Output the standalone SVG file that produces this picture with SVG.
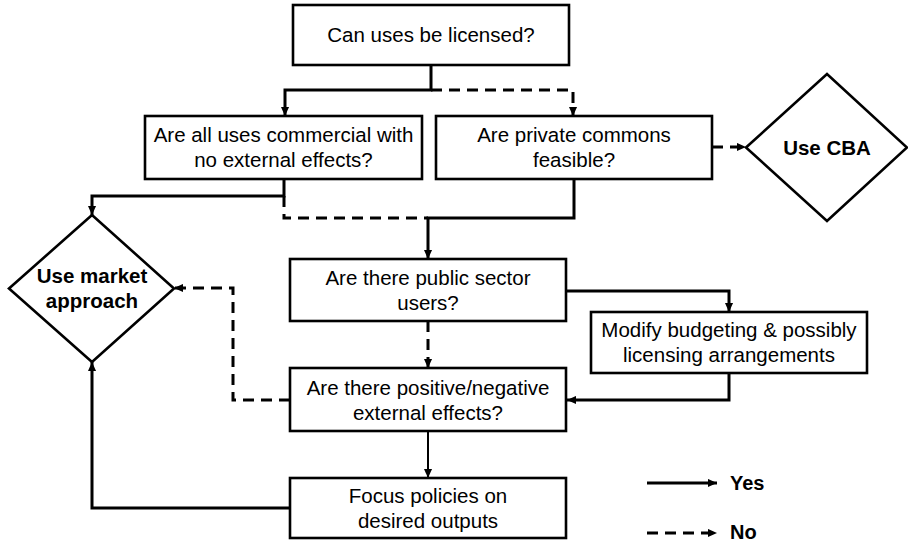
<svg xmlns="http://www.w3.org/2000/svg" width="908" height="544" viewBox="0 0 908 544">
<style>
.box{fill:#fff;stroke:#000;stroke-width:2.6}
.t{font-family:"Liberation Sans",Arial,sans-serif;font-size:20.5px;fill:#000;text-anchor:middle}
.b{font-family:"Liberation Sans",Arial,sans-serif;font-size:20.5px;font-weight:bold;fill:#000;text-anchor:middle}
.lg{font-family:"Liberation Sans",Arial,sans-serif;font-size:20px;font-weight:bold;fill:#000}
.c{fill:none;stroke:#000;stroke-width:3;marker-end:url(#ah)}
.cn{fill:none;stroke:#000;stroke-width:3}
.d{stroke-dasharray:11,7}
.thin{stroke-width:2}
</style>
<defs>
<marker id="ah" viewBox="0 0 10 10" refX="10" refY="5" markerWidth="9" markerHeight="9" markerUnits="userSpaceOnUse" orient="auto">
<path d="M0,0.5 L10,5 L0,9.5 z" fill="#000" stroke="none"/>
</marker>
</defs>
<g id="connectors">
<path class="c" d="M431,65 V90 H285 V116"/>
<path class="c d" d="M431,90 H573 V116"/>
<path class="c" d="M284,179 V196 H92 V215"/>
<path class="cn d" d="M284,196 V218 H428"/>
<path class="c" d="M574,179 V218 H428 V259"/>
<path class="c d" d="M712,147 H746"/>
<path class="c" d="M566,291 H729 V312"/>
<path class="c" d="M729,373 V400 H567"/>
<path class="c d" d="M428,321 V368"/>
<path class="c d" d="M290,400 H233 V288 H174"/>
<path class="c thin" d="M428,431 V478"/>
<path class="c" d="M290,508 H92 V362"/>
</g>
<g id="n1"><rect class="box" x="293" y="5" width="276" height="60"/><text class="t" x="431" y="42">Can uses be licensed?</text></g>
<g id="n2"><rect class="box" x="145" y="116" width="277" height="63"/><text class="t" x="283.5" y="142">Are all uses commercial with</text><text class="t" x="283.5" y="167">no external effects?</text></g>
<g id="n3"><rect class="box" x="436" y="116" width="276" height="63"/><text class="t" x="574" y="142">Are private commons</text><text class="t" x="574" y="167">feasible?</text></g>
<g id="n4"><polygon class="box" points="746,147.5 827,74 907,147.5 827,221"/><text class="b" x="827" y="155">Use CBA</text></g>
<g id="n5"><polygon class="box" points="9,288.5 92,215 174,288.5 92,362"/><text class="b" x="92" y="283">Use market</text><text class="b" x="92" y="308">approach</text></g>
<g id="n6"><rect class="box" x="290" y="259" width="276" height="62"/><text class="t" x="428" y="285">Are there public sector</text><text class="t" x="428" y="310">users?</text></g>
<g id="n7"><rect class="box" x="591" y="312" width="276" height="61"/><text class="t" x="729" y="337">Modify budgeting &amp; possibly</text><text class="t" x="729" y="362">licensing arrangements</text></g>
<g id="n8"><rect class="box" x="290" y="368" width="276" height="63"/><text class="t" x="428" y="395">Are there positive/negative</text><text class="t" x="428" y="420">external effects?</text></g>
<g id="n9"><rect class="box" x="290" y="478" width="276" height="60"/><text class="t" x="428" y="503">Focus policies on</text><text class="t" x="428" y="528">desired outputs</text></g>
<g id="legend">
<path class="c" d="M647,483 H717"/>
<text class="lg" x="730" y="490">Yes</text>
<path class="c d" d="M647,533 H717"/>
<text class="lg" x="730" y="539">No</text>
</g>
</svg>
